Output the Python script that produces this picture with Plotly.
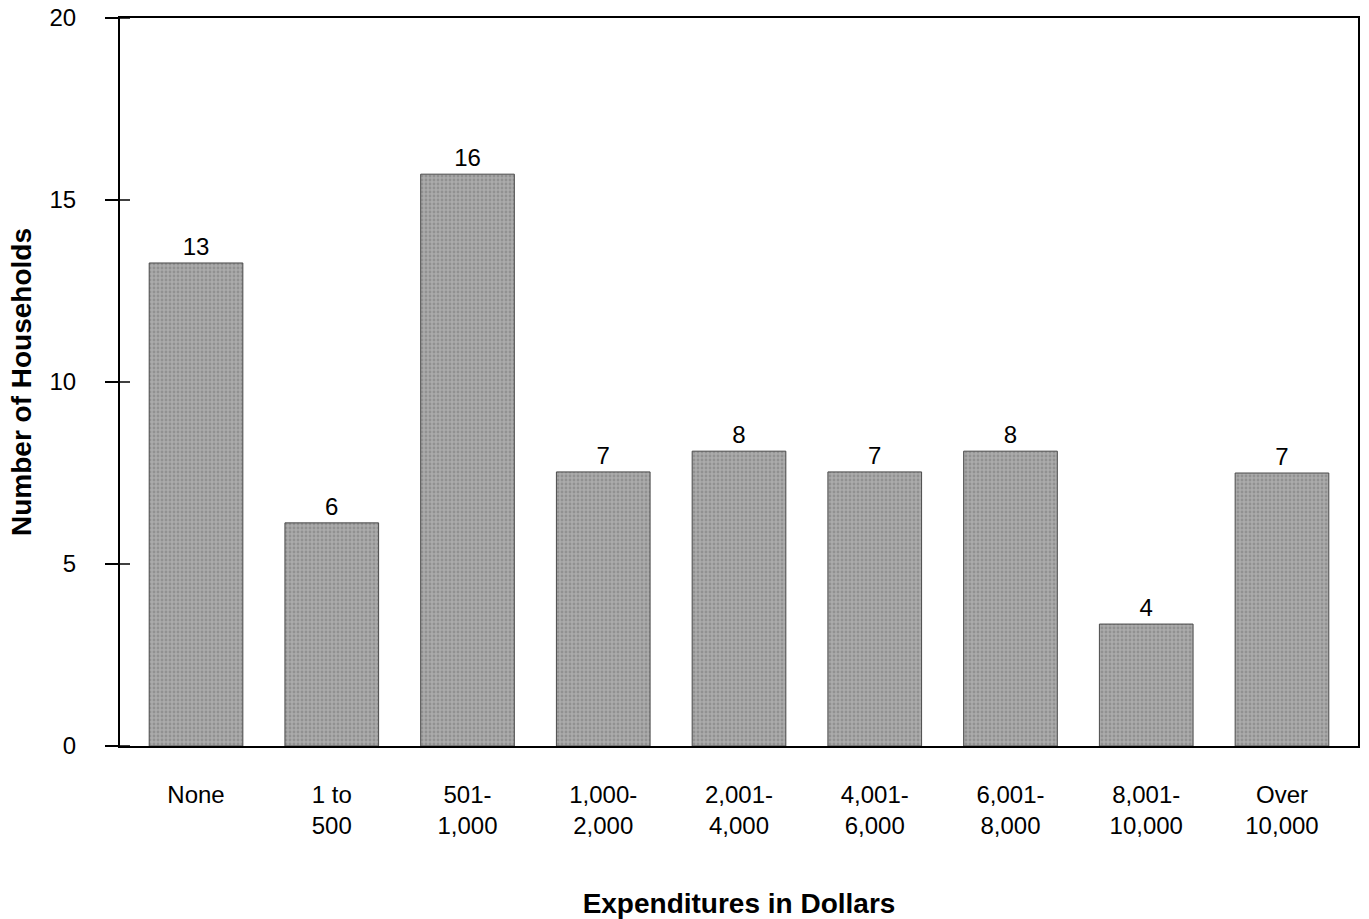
import plotly.graph_objects as go

categories = ["None", "1 to<br>500", "501-<br>1,000", "1,000-<br>2,000", "2,001-<br>4,000",
              "4,001-<br>6,000", "6,001-<br>8,000", "8,001-<br>10,000", "Over<br>10,000"]
bar_heights = [13.27, 6.13, 15.71, 7.53, 8.10, 7.53, 8.10, 3.35, 7.50]
bar_labels = ["13", "6", "16", "7", "8", "7", "8", "4", "7"]
y_ticks = [0, 5, 10, 15, 20]

W, H = 1369, 919
ml, mr, mt, mb = 120, 11, 18, 173
pw = W - ml - mr

fig = go.Figure()
fig.add_trace(go.Bar(
    x=list(range(len(categories))),
    y=bar_heights,
    text=bar_labels,
    textposition="outside",
    textfont=dict(family="Liberation Sans, Arial", size=24, color="black"),
    cliponaxis=False,
    marker=dict(
        color="#a0a0a0",
        line=dict(color="#4a4a4a", width=1),
        pattern=dict(shape=".", fgcolor="#777777", bgcolor="#ababab", size=4, solidity=0.4),
    ),
    width=0.69,
    hoverinfo="skip",
))

shapes = []
# inside part of crossing y ticks
for t in y_ticks:
    shapes.append(dict(type="line", xref="paper", yref="y", x0=0, x1=10 / pw, y0=t, y1=t,
                       line=dict(color="black", width=1.5)))
# x-axis line extension to the left
shapes.append(dict(type="line", xref="paper", yref="y", x0=-14 / pw, x1=0, y0=0, y1=0,
                   line=dict(color="black", width=2)))

fig.update_layout(
    width=W, height=H,
    margin=dict(l=ml, r=mr, t=mt, b=mb),
    plot_bgcolor="white", paper_bgcolor="white",
    showlegend=False,
    font=dict(family="Liberation Sans, Arial", size=24, color="black"),
    xaxis=dict(
        range=[-0.56, 8.56], automargin=False,
        tickmode="array", tickvals=list(range(len(categories))), ticktext=categories,
        ticks="", showline=True, linecolor="black", linewidth=2, mirror=True,
        showgrid=False, zeroline=False,
        tickfont=dict(size=24),
        ticklabelstandoff=26,
        title=dict(text="<b>Expenditures in Dollars</b>", font=dict(size=28), standoff=55),
    ),
    yaxis=dict(
        range=[0, 20], automargin=False,
        tickmode="array", tickvals=y_ticks,
        ticks="outside", ticklen=13, tickwidth=1.5, tickcolor="black",
        showline=True, linecolor="black", linewidth=2, mirror=True,
        showgrid=False, zeroline=False,
        tickfont=dict(size=24),
        ticklabelstandoff=24,
        title=dict(text="<b>Number of Households</b>", font=dict(size=28), standoff=10),
    ),
    shapes=shapes,
)

fig.write_html("out.html", post_script="document.body.style.margin='0';",
               config={"displayModeBar": False})
